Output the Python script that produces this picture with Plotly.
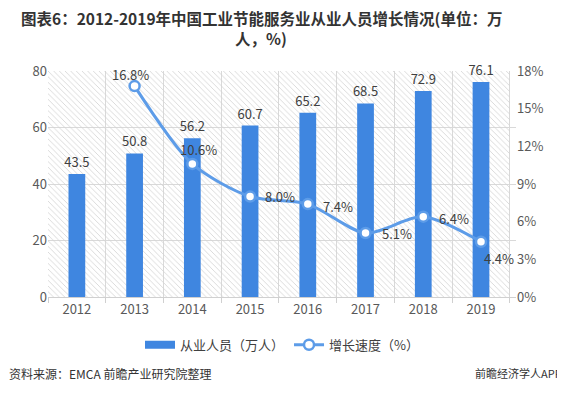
import plotly.graph_objects as go

years = ["2012", "2013", "2014", "2015", "2016", "2017", "2018", "2019"]
employees = [43.5, 50.8, 56.2, 60.7, 65.2, 68.5, 72.9, 76.1]
growth_years = ["2013", "2014", "2015", "2016", "2017", "2018", "2019"]
growth = [16.8, 10.6, 8.0, 7.4, 5.1, 6.4, 4.4]

# label placement (style): (xanchor, xshift, yshift)
growth_label_style = [("center", -4, 12), ("center", 6, 14), ("left", 13, 0),
                      ("left", 13, -2), ("left", 14, -1), ("left", 14, -2),
                      ("left", 1, -17)]

FONT = "Noto Sans CJK SC"
BAR_C = "#3F86E0"
LINE_C = "#5D9CE8"

fig = go.Figure()

# hatched plot background
fig.add_trace(go.Bar(
    x=years, y=[80] * len(years), width=1, showlegend=False, hoverinfo="skip",
    marker=dict(color="rgba(255,255,255,0)", line=dict(width=0),
                pattern=dict(shape="\\", fgcolor="#d2d2d2", fgopacity=1,
                             size=4, solidity=0.2, fillmode="replace")),
))

fig.add_trace(go.Bar(
    x=years, y=employees, name="从业人员（万人）", width=0.29, showlegend=False,
    marker=dict(color=BAR_C, line=dict(width=0)),
    text=[f"{v:.1f}" for v in employees], textposition="outside",
    constraintext="none",
    textfont=dict(size=13, color="#404040", family=FONT), cliponaxis=False,
))

# legend entry for bars drawn as a wide rectangle
fig.add_trace(go.Scatter(
    x=[None], y=[None], mode="lines", name="从业人员（万人）",
    line=dict(color=BAR_C, width=8), hoverinfo="skip",
))

fig.add_trace(go.Scatter(
    x=growth_years, y=growth, yaxis="y2", name="增长速度（%）",
    mode="lines+markers", line=dict(color=LINE_C, width=3, shape="spline", smoothing=0.8),
    marker=dict(symbol="circle", size=10, color="white", line=dict(color=LINE_C, width=2.5)),
    cliponaxis=False,
))

annotations = []
for yr, v, (xa, xs, ys) in zip(growth_years, growth, growth_label_style):
    annotations.append(dict(
        x=years.index(yr), y=v, xref="x", yref="y2", text=f"{v:.1f}%", showarrow=False,
        xanchor=xa, yanchor="middle", xshift=xs, yshift=ys,
        font=dict(size=13, color="#404040", family=FONT)))

title_lines = ["图表6：2012-2019年中国工业节能服务业从业人员增长情况(单位：万", "人，%)"]
for i, line in enumerate(title_lines):
    annotations.append(dict(
        text=f"<b>{line}</b>", xref="paper", yref="paper",
        x=(261 - 48) / 468, y=1 + (71 - 18 - 20 * i) / 226,
        xanchor="center", yanchor="middle", showarrow=False, borderpad=0,
        font=dict(size=15.5, color="#333333", family=FONT)))

annotations += [
    dict(text="资料来源：EMCA 前瞻产业研究院整理", xref="paper", yref="paper",
         x=-41 / 468, y=-(373 - 297) / 226, xanchor="left", yanchor="middle",
         showarrow=False, font=dict(size=12, color="#333333", family=FONT)),
    dict(text="前瞻经济学人APP", xref="paper", yref="paper",
         x=1 + 48 / 468, y=-(373 - 297) / 226, xanchor="right", yanchor="middle",
         showarrow=False, font=dict(size=11, color="#333333", family=FONT)),
]

fig.update_layout(
    width=565, height=394,
    margin=dict(l=40, r=57, t=63, b=105),
    paper_bgcolor="white", plot_bgcolor="white",
    barmode="overlay",
    font=dict(family=FONT, size=12, color="#595959"),
    xaxis=dict(type="category", tickson="boundaries", showgrid=True, gridcolor="#d9d9d9",
               showline=True, linecolor="#d0d0d0", ticks="outside", ticklen=5,
               tickcolor="#d0d0d0", tickfont=dict(size=13, color="#595959")),
    yaxis=dict(range=[0, 80], dtick=20, showgrid=True, gridcolor="#d9d9d9",
               zeroline=False, tickfont=dict(size=13, color="#595959")),
    yaxis2=dict(range=[0, 18], dtick=3, overlaying="y", side="right", showgrid=False,
                zeroline=False, ticksuffix="%", tickfont=dict(size=13, color="#595959")),
    legend=dict(orientation="h", x=0.5, xanchor="center", y=-0.145, yanchor="top",
                font=dict(size=13, color="#404040", family=FONT), traceorder="normal"),
    annotations=annotations,
)

fig.write_html("out.html")
